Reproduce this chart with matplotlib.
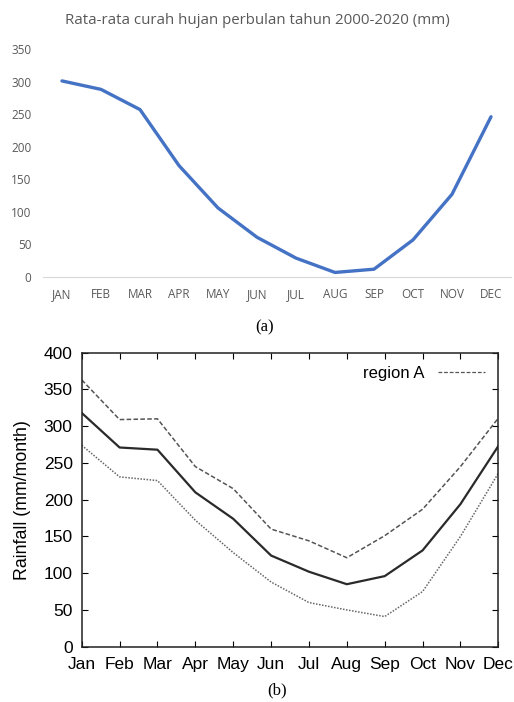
import matplotlib
matplotlib.use("Agg")
import matplotlib.pyplot as plt

# (a) monthly mean rainfall 2000-2020
months_a = ["JAN", "FEB", "MAR", "APR", "MAY", "JUN", "JUL", "AUG", "SEP", "OCT", "NOV", "DEC"]
rain_a = [301, 288, 257, 171, 106, 61, 29, 7, 12, 57, 127, 246]

# (b) region A: mean with upper / lower bounds
months_b = ["Jan", "Feb", "Mar", "Apr", "May", "Jun", "Jul", "Aug", "Sep", "Oct", "Nov", "Dec"]
rain_mid = [318, 271, 268, 210, 174, 124, 102, 85, 96, 131, 194, 273]
rain_hi = [363, 309, 310, 245, 215, 160, 144, 121, 151, 187, 245, 311]
rain_lo = [274, 231, 226, 172, 128, 88, 60, 50, 41, 75, 150, 236]

fig = plt.figure(figsize=(5.14, 7.02), dpi=100)

# ---- top chart (a)
ax1 = fig.add_axes([0.0827, 0.6054, 0.9105, 0.3248])
x = range(len(months_a))
ax1.plot(x, rain_a, color="#4472C4", lw=2.4, solid_capstyle="round")
ax1.set_xlim(-0.5, 11.5)
ax1.set_ylim(0, 350)
ax1.set_yticks(range(0, 351, 50))
ax1.set_xticks(list(x))
ax1.set_xticklabels(months_a)
for s in ["top", "right", "left"]:
    ax1.spines[s].set_visible(False)
ax1.spines["bottom"].set_color("#d9d9d9")
ax1.tick_params(length=0, labelsize=8.5, labelcolor="#595959", pad=8)
ax1.tick_params(axis="y", pad=8)
for lab in ax1.get_xticklabels() + ax1.get_yticklabels():
    lab.set_family("Open Sans")
fig.text(0.5, 0.9715, "Rata-rata curah hujan perbulan tahun 2000-2020 (mm)",
         ha="center", va="center", fontsize=10.8, color="#595959", family="Open Sans")
fig.text(0.515, 0.534, "(a)", ha="center", va="center", fontsize=12, family="Liberation Serif")

# ---- bottom chart (b)
ax2 = fig.add_axes([0.159, 0.0788, 0.8105, 0.4188])
xb = range(len(months_b))
ax2.plot(xb, rain_mid, color="#2a2a2a", lw=1.6)
ax2.plot(xb, rain_hi, color="#555555", lw=1.1, ls=(0, (3, 1.5)))
ax2.plot(xb, rain_lo, color="#666666", lw=1.1, ls=(0, (1, 1)))
ax2.set_xlim(0, 11)
ax2.set_ylim(0, 400)
ax2.set_yticks(range(0, 401, 50))
ax2.set_xticks(list(xb))
ax2.set_xticklabels(months_b)
ax2.tick_params(direction="in", top=True, right=True, length=4.5, labelsize=12.5)
ax2.tick_params(axis="y", pad=6.5)
ax2.tick_params(axis="x", pad=7.5)
for lab in ax2.get_xticklabels() + ax2.get_yticklabels():
    lab.set_family("Liberation Sans")
for s in ax2.spines.values():
    s.set_linewidth(1.1)
    s.set_color("#222222")
ax2.set_ylabel("Rainfall (mm/month)", fontsize=12.8, family="Liberation Sans", labelpad=9)
leg_handle, = ax2.plot([], [], color="#555555", lw=0.9, ls=(0, (3, 1.5)))
ax2.legend([leg_handle], ["region A"], loc="upper right", frameon=False, markerfirst=False,
           prop={"family": "Liberation Sans", "size": 12}, handlelength=2.8,
           borderaxespad=0.4, handletextpad=0.8)
fig.text(0.539, 0.016, "(b)", ha="center", va="center", fontsize=12, family="Liberation Serif")

fig.savefig("out.png", dpi=100)
